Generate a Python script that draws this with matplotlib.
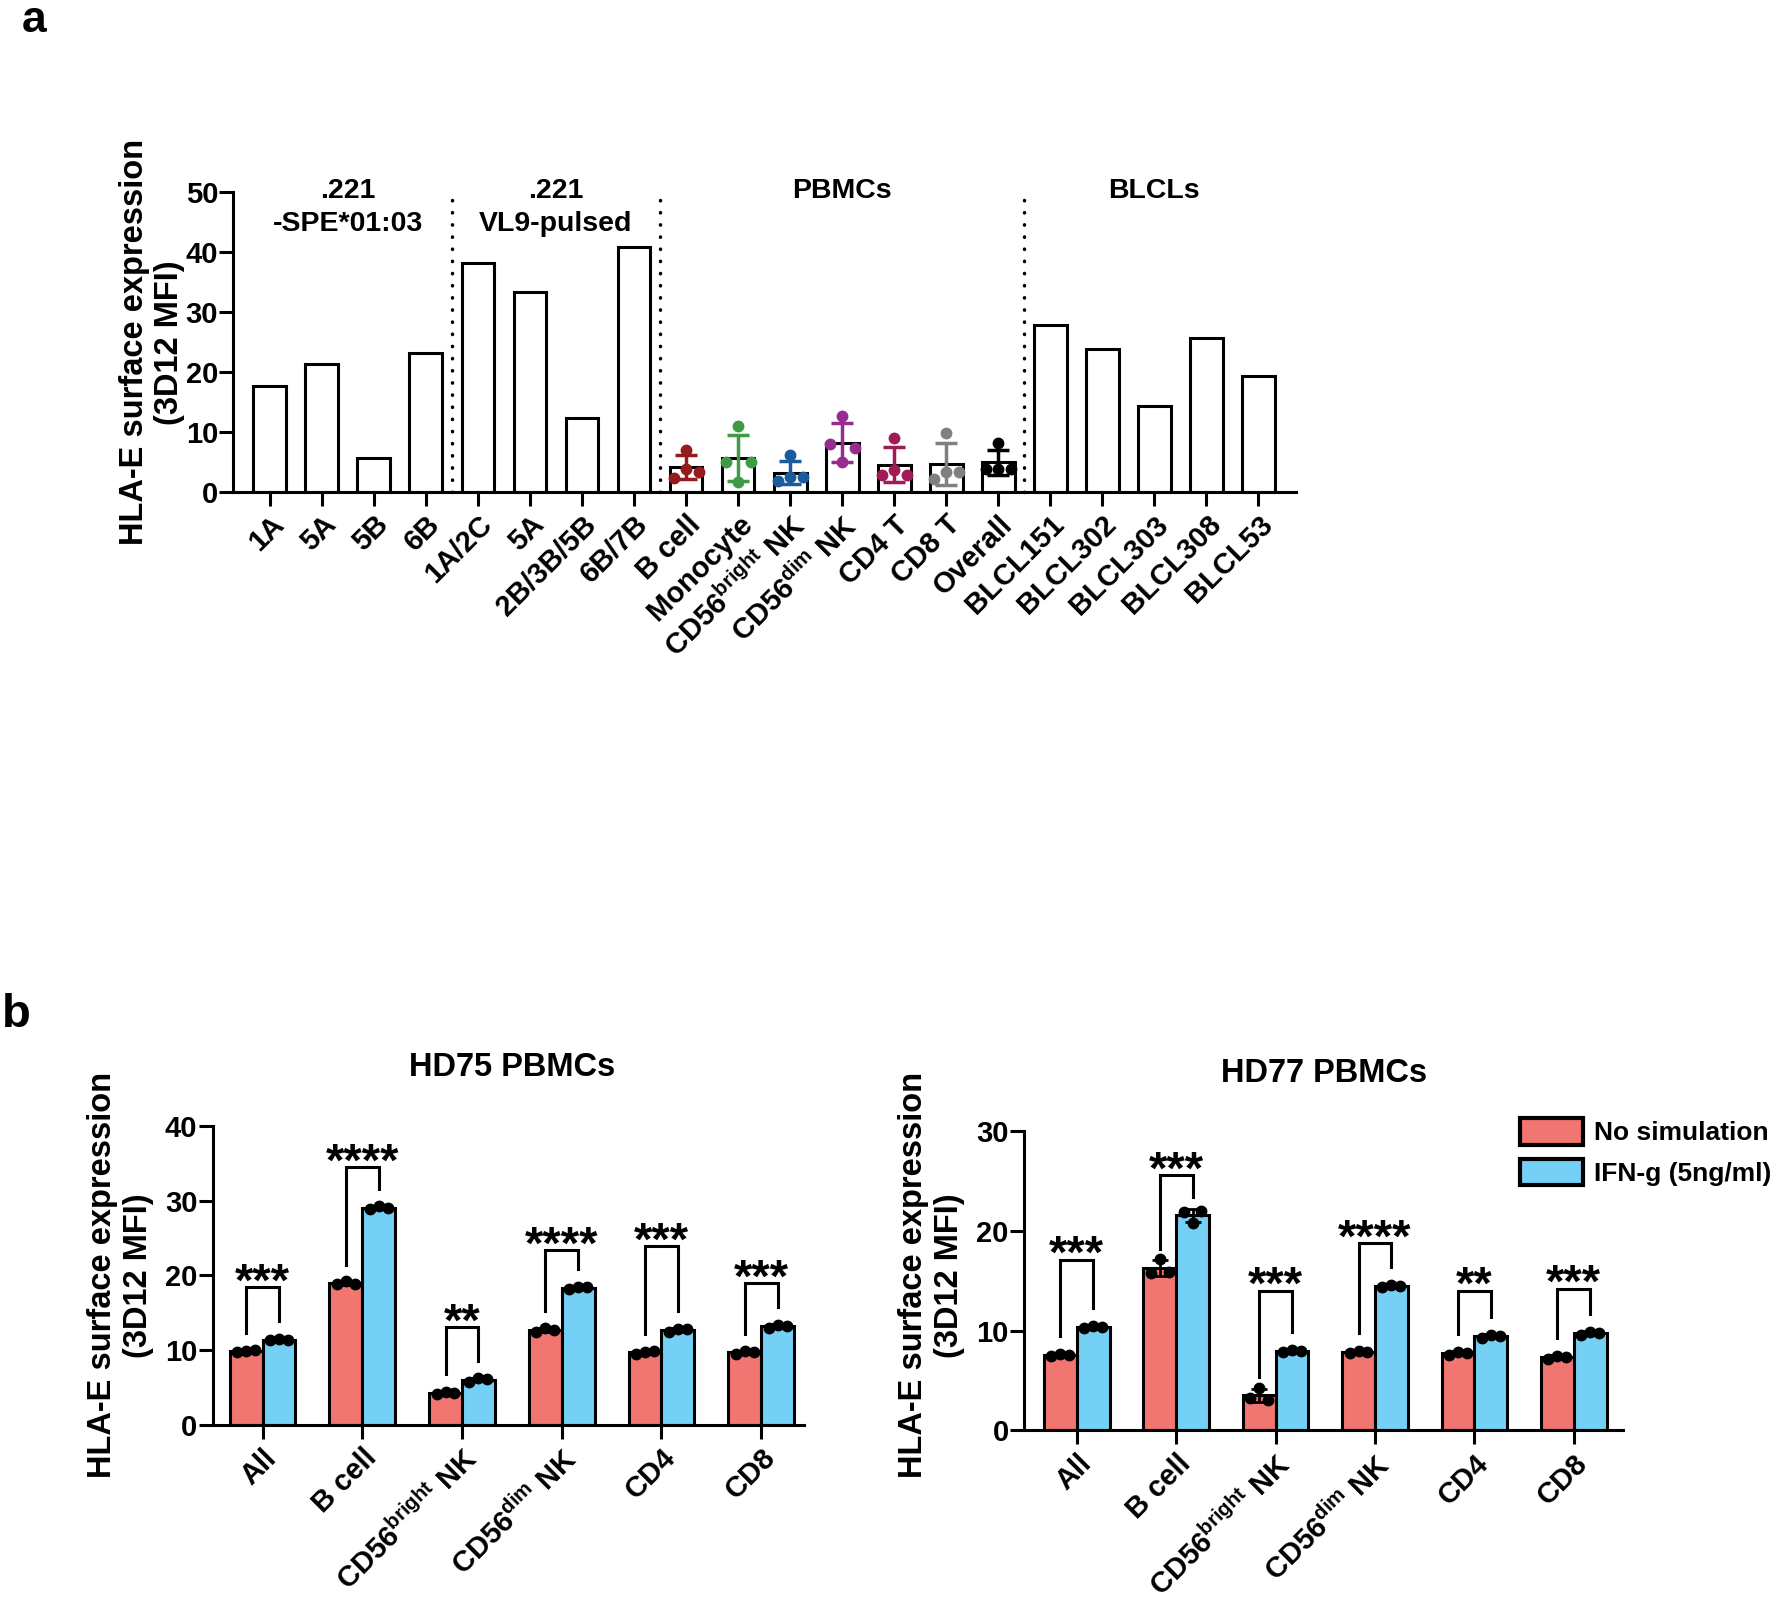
import numpy as np
import matplotlib
matplotlib.use("Agg")
import matplotlib.pyplot as plt
from matplotlib.patches import Patch

plt.rcParams['font.family'] = ['Liberation Sans', 'DejaVu Sans']
plt.rcParams['font.weight'] = 'bold'
plt.rcParams['mathtext.fontset'] = 'custom'
plt.rcParams['mathtext.rm'] = 'Liberation Sans'
plt.rcParams['mathtext.it'] = 'Liberation Sans:italic'
plt.rcParams['mathtext.bf'] = 'Liberation Sans:bold'

# ---- panel a data ----
spe_labels = ['1A', '5A', '5B', '6B']
spe_mfi = [17.7, 21.4, 5.7, 23.1]
vl9_labels = ['1A/2C', '5A', '2B/3B/5B', '6B/7B']
vl9_mfi = [38.2, 33.3, 12.3, 40.9]
pbmc_labels = ['B cell', 'Monocyte', r'CD56$^{\mathrm{bright}}$ NK',
               r'CD56$^{\mathrm{dim}}$ NK', 'CD4 T', 'CD8 T', 'Overall']
# four donors per population
pbmc_points = [
    [6.9, 2.3, 3.8, 3.3],
    [11.0, 5.0, 1.6, 4.9],
    [6.1, 1.8, 2.4, 2.4],
    [12.7, 7.9, 4.9, 7.3],
    [8.9, 2.8, 3.6, 2.8],
    [9.8, 2.1, 3.3, 3.3],
    [8.1, 3.8, 3.8, 3.8],
]
pbmc_colors = ['#951b1e', '#3f9a45', '#1b5a9c', '#962b90', '#a01a58', '#808080', '#000000']
blcl_labels = ['BLCL151', 'BLCL302', 'BLCL303', 'BLCL308', 'BLCL53']
blcl_mfi = [27.8, 23.8, 14.3, 25.6, 19.4]

# ---- panel b data ----
cell_types = ['All', 'B cell', r'CD56$^{\mathrm{bright}}$ NK',
              r'CD56$^{\mathrm{dim}}$ NK', 'CD4', 'CD8']
hd75_ctrl = [[9.7, 9.9, 10.0], [18.8, 19.2, 18.9], [4.2, 4.4, 4.3],
             [12.4, 13.0, 12.7], [9.5, 9.8, 9.9], [9.5, 9.9, 9.8]]
hd75_ifn = [[11.3, 11.5, 11.4], [28.9, 29.3, 29.0], [5.8, 6.3, 6.1],
            [18.2, 18.5, 18.4], [12.5, 12.9, 12.8], [13.0, 13.4, 13.3]]
hd75_stars = ['***', '****', '**', '****', '***', '***']
hd75_bracket = [18.4, 34.5, 13.1, 23.4, 23.9, 19.0]

hd77_ctrl = [[7.5, 7.7, 7.6], [15.8, 17.2, 15.9], [3.2, 4.3, 3.0],
             [7.8, 8.0, 7.9], [7.6, 7.9, 7.8], [7.2, 7.5, 7.4]]
hd77_ifn = [[10.3, 10.5, 10.4], [21.9, 20.8, 22.0], [7.9, 8.1, 8.0],
            [14.4, 14.6, 14.5], [9.3, 9.6, 9.5], [9.6, 9.9, 9.8]]
hd77_stars = ['***', '***', '***', '****', '**', '***']
hd77_bracket = [17.1, 25.6, 14.0, 18.8, 14.0, 14.2]

legend_labels = ['No simulation', 'IFN-g (5ng/ml)']
RED = '#f17570'
BLUE = '#75d0f5'
LW = 2.2
YLABEL = 'HLA-E surface expression\n(3D12 MFI)'


def style_axes(ax):
    for s in ['top', 'right']:
        ax.spines[s].set_visible(False)
    for s in ['left', 'bottom']:
        ax.spines[s].set_linewidth(LW)
    ax.tick_params(width=LW, length=10, labelsize=21)
    ax.tick_params(axis='y', pad=1, labelsize=21)


fig = plt.figure(figsize=(17.84, 16), dpi=100)

# ================= panel a =================
ax = fig.add_axes([0.1308, 0.6927, 0.5956, 0.1871])
style_axes(ax)

pbmc_mean = [np.mean(p) for p in pbmc_points]
pbmc_sd = [np.std(p, ddof=1) for p in pbmc_points]
heights = spe_mfi + vl9_mfi + pbmc_mean + blcl_mfi
labels = spe_labels + vl9_labels + pbmc_labels + blcl_labels
x = np.arange(len(heights))
ax.bar(x, heights, width=0.63, color='white', edgecolor='black', linewidth=LW, zorder=2)

start = len(spe_mfi) + len(vl9_mfi)
offsets = np.array([0, -0.24, 0, 0.24])
for i, (pts, c) in enumerate(zip(pbmc_points, pbmc_colors)):
    xi = start + i
    ax.errorbar(xi, pbmc_mean[i], yerr=pbmc_sd[i], fmt='none', ecolor=c,
                elinewidth=2.5, capsize=8, capthick=2.5, zorder=3)
    ax.plot(xi + offsets, pts, 'o', color=c, ms=7.5, zorder=4)

for xs in [3.5, 7.5, 14.5]:
    ax.plot([xs, xs], [0, 50], color='black', lw=2.5, linestyle=(0, (0.1, 3.4)),
            dash_capstyle='round', clip_on=False, zorder=1)

group_text = [(1.5, '.221', '-SPE*01:03'), (5.5, '.221', 'VL9-pulsed'),
              (11.0, 'PBMCs', None), (17.0, 'BLCLs', None)]
for gx, l1, l2 in group_text:
    ax.text(gx, 50.3, l1, ha='center', va='center', fontsize=20.5, fontweight='bold')
    if l2:
        ax.text(gx, 44.7, l2, ha='center', va='center', fontsize=20.5, fontweight='bold')

ax.set_xlim(-0.7, 19.72)
ax.set_ylim(0, 50)
ax.set_yticks(range(0, 51, 10))
ax.set_xticks(x)
ax.set_xticklabels(labels, rotation=45, ha='right', rotation_mode='anchor')
fig.text(0.0852, 0.786, YLABEL, rotation=90, ha='center', va='center',
         multialignment='center', fontsize=23.5, fontweight='bold')


# ================= panel b =================
def grouped(ax, ctrl, ifn, tops, stars, ymax, xlim):
    style_axes(ax)
    xb = np.arange(len(cell_types))
    w = 0.33
    means = []
    for pts_list, off, col in [(ctrl, -w / 2, RED), (ifn, w / 2, BLUE)]:
        pts = np.array(pts_list)
        m = pts.mean(axis=1)
        sd = pts.std(axis=1, ddof=1)
        means.append(m)
        ax.bar(xb + off, m, width=w, color=col, edgecolor='black', linewidth=LW, zorder=2)
        ax.errorbar(xb + off, m, yerr=sd, fmt='none', ecolor='black', elinewidth=2,
                    capsize=6, capthick=2, zorder=3)
        for i in range(len(xb)):
            ax.plot(xb[i] + off + np.array([-0.09, 0, 0.09]), pts[i], 'o',
                    color='black', ms=7.5, zorder=4)
    gap = 0.062 * ymax
    for i in range(len(xb)):
        lx, rx = xb[i] - w / 2, xb[i] + w / 2
        ax.plot([lx, lx, rx, rx], [means[0][i] + gap, tops[i], tops[i], means[1][i] + gap],
                color='black', lw=LW, zorder=3, solid_joinstyle='miter')
        ax.annotate(stars[i], (xb[i], tops[i]), xytext=(0, -6), textcoords='offset points',
                    ha='center', va='baseline', fontsize=34, fontweight='bold')
    ax.set_xlim(*xlim)
    ax.set_ylim(0, ymax)
    ax.set_yticks(range(0, ymax + 1, 10))
    ax.set_xticks(xb)
    ax.set_xticklabels(cell_types, rotation=45, ha='right', rotation_mode='anchor')


ax1 = fig.add_axes([0.1192, 0.1094, 0.3315, 0.1869])
grouped(ax1, hd75_ctrl, hd75_ifn, hd75_bracket, hd75_stars, 40, (-0.5, 5.43))
fig.text(0.287, 0.333, 'HD75 PBMCs', ha='center', va='center', fontsize=23.5, fontweight='bold')
fig.text(0.0677, 0.203, YLABEL, rotation=90, ha='center', va='center',
         multialignment='center', fontsize=23.5, fontweight='bold')

ax2 = fig.add_axes([0.574, 0.106, 0.336, 0.187])
grouped(ax2, hd77_ctrl, hd77_ifn, hd77_bracket, hd77_stars, 30, (-0.53, 5.5))
fig.text(0.742, 0.329, 'HD77 PBMCs', ha='center', va='center', fontsize=23.5, fontweight='bold')
fig.text(0.522, 0.203, YLABEL, rotation=90, ha='center', va='center',
         multialignment='center', fontsize=23.5, fontweight='bold')

handles = [Patch(facecolor=RED, edgecolor='black', linewidth=3),
           Patch(facecolor=BLUE, edgecolor='black', linewidth=3)]
fig.legend(handles, legend_labels, loc='upper left', bbox_to_anchor=(0.852, 0.301),
           frameon=False, fontsize=19, handlelength=2.4, handleheight=1.15,
           handletextpad=0.4, labelspacing=0.5, borderpad=0, borderaxespad=0)

fig.text(0.0123, 1.0, 'a', fontsize=32, fontweight='bold', va='top')
fig.text(0.001, 0.358, 'b', fontsize=34, fontweight='bold', va='baseline')

fig.savefig('out.png', dpi=100)
